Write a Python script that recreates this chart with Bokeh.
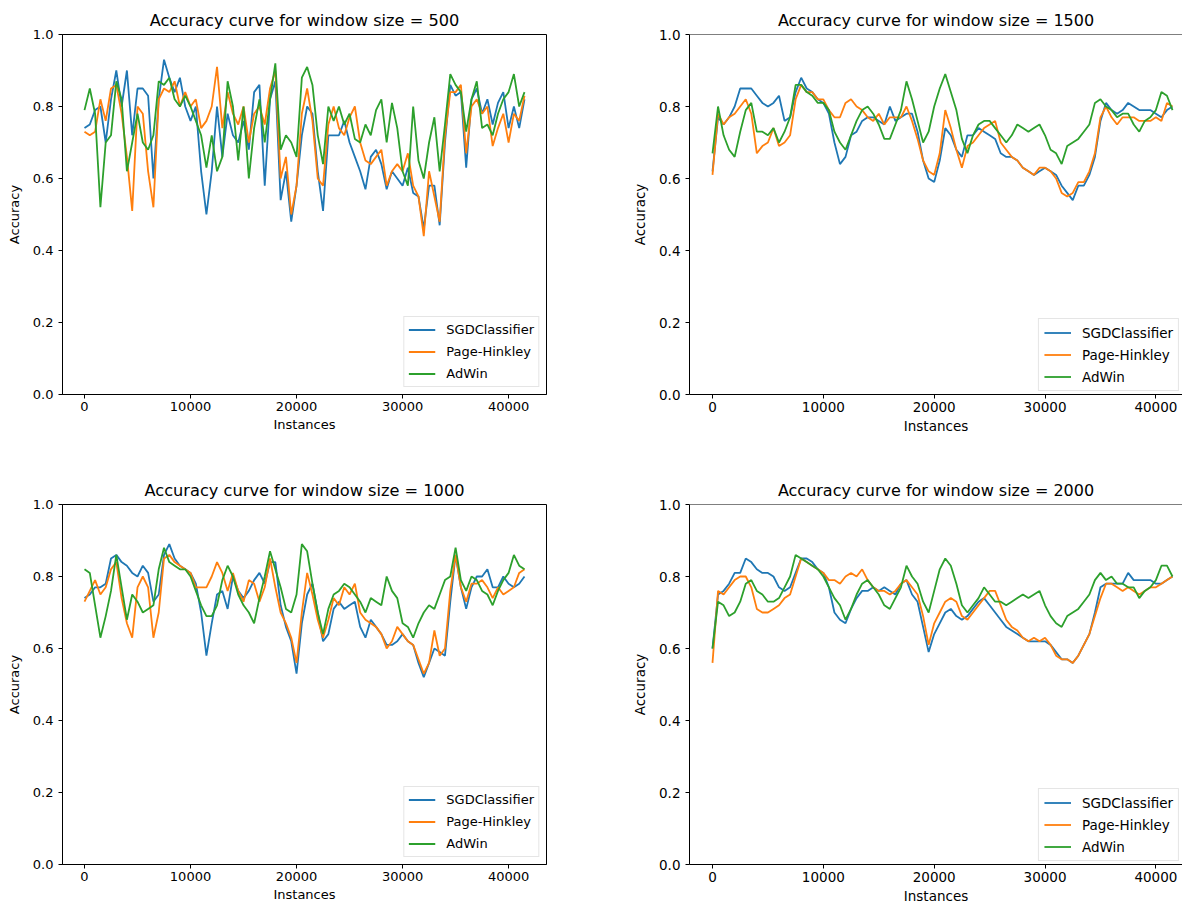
from bokeh.plotting import figure
from bokeh.models import Range1d, Legend, LegendItem, FixedTicker, Span, NumeralTickFormatter
from bokeh.layouts import row, column
from bokeh.embed import file_html
from bokeh.resources import INLINE

FONT = "DejaVu Sans"
BLUE, ORANGE, GREEN = "#1f77b4", "#ff7f0e", "#2ca02c"

# x positions of the samples (instances)
instances = [i * 500 for i in range(84)]
series_names = ["SGDClassifier", "Page-Hinkley", "AdWin"]
x_ticks = [0, 10000, 20000, 30000, 40000]
y_ticks = [0.0, 0.2, 0.4, 0.6, 0.8, 1.0]

# ---- window size = 500 ----
sgd_500 = [0.74, 0.75, 0.79, 0.80, 0.70, 0.82, 0.90, 0.80, 0.90, 0.72,
           0.85, 0.85, 0.83, 0.60, 0.82, 0.93, 0.88, 0.84, 0.88, 0.80,
           0.76, 0.80, 0.62, 0.50, 0.62, 0.80, 0.66, 0.78, 0.72, 0.70,
           0.76, 0.68, 0.84, 0.86, 0.58, 0.82, 0.87, 0.54, 0.62, 0.48,
           0.58, 0.72, 0.80, 0.78, 0.62, 0.51, 0.72, 0.72, 0.72, 0.76,
           0.70, 0.66, 0.62, 0.57, 0.66, 0.68, 0.64, 0.57, 0.62, 0.60,
           0.58, 0.63, 0.56, 0.55, 0.46, 0.58, 0.58, 0.47, 0.70, 0.86,
           0.83, 0.84, 0.63, 0.82, 0.85, 0.78, 0.82, 0.75, 0.81, 0.84,
           0.74, 0.80, 0.74, 0.82]
ph_500 = [0.73, 0.72, 0.73, 0.82, 0.76, 0.85, 0.86, 0.78, 0.66, 0.51,
          0.80, 0.78, 0.62, 0.52, 0.82, 0.85, 0.84, 0.87, 0.80, 0.84,
          0.80, 0.82, 0.74, 0.76, 0.80, 0.91, 0.74, 0.84, 0.78, 0.75,
          0.80, 0.70, 0.78, 0.80, 0.75, 0.85, 0.90, 0.60, 0.66, 0.50,
          0.58, 0.78, 0.85, 0.76, 0.60, 0.58, 0.75, 0.80, 0.74, 0.72,
          0.77, 0.80, 0.70, 0.65, 0.64, 0.66, 0.68, 0.58, 0.62, 0.64,
          0.62, 0.67, 0.58, 0.55, 0.44, 0.62, 0.55, 0.48, 0.72, 0.84,
          0.84, 0.86, 0.67, 0.80, 0.82, 0.78, 0.80, 0.69, 0.74, 0.78,
          0.70, 0.78, 0.76, 0.83]
adwin_500 = [0.79, 0.85, 0.78, 0.52, 0.70, 0.72, 0.87, 0.82, 0.62, 0.70,
             0.78, 0.70, 0.68, 0.72, 0.87, 0.86, 0.88, 0.82, 0.80, 0.83,
             0.80, 0.76, 0.72, 0.63, 0.72, 0.62, 0.66, 0.87, 0.80, 0.65,
             0.80, 0.60, 0.74, 0.82, 0.70, 0.82, 0.92, 0.68, 0.72, 0.70,
             0.66, 0.88, 0.91, 0.86, 0.72, 0.64, 0.80, 0.76, 0.80, 0.75,
             0.78, 0.71, 0.70, 0.75, 0.72, 0.79, 0.82, 0.70, 0.81, 0.74,
             0.62, 0.58, 0.80, 0.65, 0.60, 0.70, 0.77, 0.62, 0.75, 0.89,
             0.86, 0.84, 0.73, 0.82, 0.87, 0.74, 0.75, 0.72, 0.78, 0.82,
             0.84, 0.89, 0.80, 0.84]

# ---- window size = 1000 ----
sgd_1000 = [0.74, 0.75, 0.77, 0.77, 0.78, 0.85, 0.86, 0.84, 0.83, 0.81,
            0.80, 0.83, 0.81, 0.73, 0.75, 0.86, 0.89, 0.85, 0.83, 0.82,
            0.81, 0.78, 0.70, 0.58, 0.67, 0.75, 0.76, 0.71, 0.80, 0.76,
            0.74, 0.76, 0.79, 0.81, 0.78, 0.84, 0.84, 0.72, 0.66, 0.62,
            0.53, 0.67, 0.75, 0.78, 0.70, 0.62, 0.64, 0.71, 0.73, 0.71,
            0.72, 0.73, 0.66, 0.63, 0.68, 0.66, 0.64, 0.61, 0.61, 0.62,
            0.64, 0.62, 0.61, 0.56, 0.52, 0.56, 0.60, 0.59, 0.58, 0.73,
            0.86, 0.77, 0.71, 0.77, 0.80, 0.80, 0.82, 0.77, 0.77, 0.80,
            0.78, 0.77, 0.78, 0.80]
ph_1000 = [0.73, 0.76, 0.79, 0.75, 0.77, 0.82, 0.84, 0.74, 0.67, 0.63,
           0.77, 0.80, 0.77, 0.63, 0.70, 0.85, 0.86, 0.84, 0.83, 0.82,
           0.81, 0.77, 0.77, 0.77, 0.80, 0.84, 0.81, 0.76, 0.81, 0.76,
           0.73, 0.79, 0.78, 0.73, 0.77, 0.85, 0.77, 0.70, 0.67, 0.63,
           0.56, 0.70, 0.81, 0.75, 0.68, 0.63, 0.68, 0.74, 0.72, 0.77,
           0.75, 0.78, 0.70, 0.68, 0.67, 0.66, 0.64, 0.60, 0.62, 0.66,
           0.64, 0.62, 0.61, 0.57, 0.53, 0.56, 0.65, 0.58, 0.60, 0.76,
           0.86, 0.77, 0.73, 0.78, 0.78, 0.79, 0.77, 0.74, 0.77, 0.75,
           0.76, 0.77, 0.81, 0.82]
adwin_1000 = [0.82, 0.81, 0.72, 0.63, 0.69, 0.76, 0.86, 0.77, 0.68, 0.75,
              0.73, 0.70, 0.71, 0.72, 0.82, 0.88, 0.84, 0.83, 0.82, 0.82,
              0.80, 0.76, 0.72, 0.69, 0.69, 0.72, 0.79, 0.83, 0.80, 0.75,
              0.72, 0.70, 0.67, 0.74, 0.80, 0.87, 0.82, 0.77, 0.71, 0.70,
              0.75, 0.89, 0.87, 0.78, 0.70, 0.64, 0.71, 0.75, 0.76, 0.78,
              0.77, 0.75, 0.73, 0.70, 0.74, 0.73, 0.72, 0.80, 0.76, 0.74,
              0.67, 0.66, 0.63, 0.67, 0.70, 0.72, 0.71, 0.75, 0.79, 0.80,
              0.88, 0.79, 0.76, 0.80, 0.79, 0.76, 0.75, 0.72, 0.76, 0.79,
              0.81, 0.86, 0.83, 0.82]

# ---- window size = 1500 ----
sgd_1500 = [0.62, 0.77, 0.75, 0.77, 0.80, 0.85, 0.85, 0.85, 0.83, 0.81,
            0.80, 0.81, 0.83, 0.76, 0.77, 0.84, 0.88, 0.85, 0.84, 0.82,
            0.81, 0.78, 0.70, 0.64, 0.66, 0.72, 0.73, 0.76, 0.77, 0.77,
            0.76, 0.75, 0.80, 0.76, 0.77, 0.78, 0.78, 0.73, 0.65, 0.60,
            0.59, 0.65, 0.74, 0.72, 0.68, 0.66, 0.72, 0.72, 0.74, 0.73,
            0.72, 0.71, 0.67, 0.66, 0.66, 0.65, 0.63, 0.62, 0.61, 0.62,
            0.63, 0.62, 0.61, 0.58, 0.56, 0.54, 0.58, 0.58, 0.61, 0.66,
            0.76, 0.81, 0.79, 0.78, 0.79, 0.81, 0.80, 0.79, 0.79, 0.79,
            0.78, 0.77, 0.79, 0.80]
ph_1500 = [0.61, 0.78, 0.75, 0.77, 0.78, 0.80, 0.82, 0.78, 0.67, 0.69,
           0.70, 0.74, 0.69, 0.70, 0.72, 0.82, 0.86, 0.84, 0.84, 0.82,
           0.82, 0.79, 0.77, 0.77, 0.81, 0.82, 0.80, 0.79, 0.77, 0.76,
           0.78, 0.75, 0.77, 0.77, 0.77, 0.80, 0.76, 0.71, 0.65, 0.62,
           0.61, 0.67, 0.79, 0.74, 0.68, 0.63, 0.69, 0.70, 0.72, 0.74,
           0.75, 0.76, 0.70, 0.68, 0.66, 0.65, 0.63, 0.62, 0.61, 0.63,
           0.63, 0.62, 0.60, 0.56, 0.55, 0.56, 0.59, 0.59, 0.62, 0.67,
           0.77, 0.80, 0.77, 0.75, 0.77, 0.77, 0.77, 0.76, 0.76, 0.76,
           0.77, 0.76, 0.81, 0.80]
adwin_1500 = [0.67, 0.80, 0.72, 0.68, 0.66, 0.73, 0.79, 0.81, 0.73, 0.73,
              0.72, 0.74, 0.70, 0.73, 0.77, 0.86, 0.86, 0.84, 0.83, 0.81,
              0.81, 0.79, 0.73, 0.70, 0.68, 0.72, 0.76, 0.79, 0.80, 0.78,
              0.75, 0.71, 0.71, 0.75, 0.79, 0.87, 0.82, 0.76, 0.70, 0.73,
              0.80, 0.85, 0.89, 0.84, 0.79, 0.71, 0.67, 0.72, 0.75, 0.76,
              0.76, 0.74, 0.72, 0.70, 0.72, 0.75, 0.74, 0.73, 0.74, 0.75,
              0.72, 0.68, 0.67, 0.64, 0.69, 0.70, 0.71, 0.73, 0.75, 0.81,
              0.82, 0.80, 0.79, 0.77, 0.78, 0.78, 0.75, 0.73, 0.76, 0.77,
              0.79, 0.84, 0.83, 0.79]

# ---- window size = 2000 ----
sgd_2000 = [0.60, 0.75, 0.76, 0.78, 0.81, 0.81, 0.85, 0.84, 0.82, 0.81,
            0.81, 0.80, 0.77, 0.76, 0.77, 0.81, 0.85, 0.85, 0.84, 0.82,
            0.81, 0.77, 0.70, 0.68, 0.67, 0.71, 0.74, 0.76, 0.76, 0.77,
            0.76, 0.77, 0.76, 0.75, 0.78, 0.79, 0.75, 0.73, 0.66, 0.59,
            0.64, 0.67, 0.70, 0.71, 0.69, 0.68, 0.69, 0.71, 0.73, 0.74,
            0.72, 0.70, 0.68, 0.66, 0.65, 0.64, 0.63, 0.62, 0.62, 0.62,
            0.62, 0.61, 0.59, 0.57, 0.57, 0.56, 0.58, 0.61, 0.64, 0.70,
            0.77, 0.78, 0.78, 0.78, 0.78, 0.81, 0.79, 0.79, 0.79, 0.79,
            0.78, 0.78, 0.79, 0.80]
ph_2000 = [0.56, 0.76, 0.75, 0.77, 0.79, 0.80, 0.80, 0.77, 0.71, 0.70,
           0.70, 0.71, 0.72, 0.74, 0.75, 0.80, 0.85, 0.84, 0.83, 0.82,
           0.81, 0.79, 0.79, 0.78, 0.80, 0.81, 0.80, 0.82, 0.79, 0.77,
           0.76, 0.76, 0.75, 0.76, 0.78, 0.79, 0.77, 0.75, 0.69, 0.61,
           0.67, 0.70, 0.73, 0.74, 0.73, 0.69, 0.68, 0.70, 0.72, 0.74,
           0.76, 0.76, 0.72, 0.68, 0.66, 0.65, 0.63, 0.62, 0.63, 0.62,
           0.63, 0.61, 0.58, 0.57, 0.57, 0.56, 0.58, 0.61, 0.64, 0.69,
           0.74, 0.78, 0.78, 0.77, 0.76, 0.77, 0.76, 0.75, 0.76, 0.77,
           0.77, 0.78, 0.79, 0.80]
adwin_2000 = [0.60, 0.73, 0.72, 0.69, 0.70, 0.73, 0.78, 0.79, 0.76, 0.75,
              0.73, 0.73, 0.74, 0.77, 0.80, 0.86, 0.85, 0.84, 0.83, 0.82,
              0.80, 0.77, 0.74, 0.72, 0.68, 0.71, 0.75, 0.78, 0.79, 0.77,
              0.75, 0.72, 0.71, 0.74, 0.77, 0.83, 0.80, 0.78, 0.73, 0.70,
              0.76, 0.82, 0.85, 0.83, 0.78, 0.72, 0.70, 0.72, 0.74, 0.77,
              0.75, 0.73, 0.73, 0.72, 0.73, 0.74, 0.75, 0.74, 0.75, 0.76,
              0.72, 0.69, 0.67, 0.66, 0.69, 0.70, 0.71, 0.73, 0.75, 0.79,
              0.81, 0.79, 0.80, 0.78, 0.78, 0.77, 0.77, 0.74, 0.76, 0.77,
              0.79, 0.83, 0.83, 0.80]


def make_panel(window, ys, width, height, mb, x_end, fs, fs_title, clip_right):
    p = figure(width=width, height=height,
               x_range=Range1d(-2075, x_end), y_range=Range1d(0, 1),
               output_backend="svg", toolbar_location=None,
               min_border_left=mb[0], min_border_right=mb[1],
               min_border_top=mb[2], min_border_bottom=mb[3])
    p.grid.visible = False
    p.background_fill_color = "white"
    p.border_fill_color = "white"
    if clip_right:
        p.outline_line_color = None
        p.add_layout(Span(location=1.0, dimension="width", line_color="black", line_width=1))
    else:
        p.outline_line_color = "black"
        p.outline_line_width = 1
        p.outline_line_alpha = 1

    p.title.text = f"Accuracy curve for window size = {window}"
    p.title.align = "center"
    p.title.text_font = FONT
    p.title.text_font_size = fs_title
    p.title.text_font_style = "normal"
    p.title.text_color = "black"
    p.title.standoff = 9

    for ax in (p.xaxis[0], p.yaxis[0]):
        ax.axis_line_color = "black"
        ax.axis_line_width = 1
        ax.major_tick_in = 0
        ax.major_tick_out = 4
        ax.major_tick_line_color = "black"
        ax.minor_tick_line_color = None
        ax.major_label_text_font = FONT
        ax.major_label_text_font_size = fs
        ax.major_label_text_color = "black"
        ax.axis_label_text_font = FONT
        ax.axis_label_text_font_size = fs
        ax.axis_label_text_font_style = "normal"
        ax.axis_label_text_color = "black"
    p.xaxis.axis_label = "Instances"
    p.yaxis.axis_label = "Accuracy"
    p.xaxis.ticker = FixedTicker(ticks=x_ticks)
    p.yaxis.ticker = FixedTicker(ticks=y_ticks)
    p.xaxis.formatter = NumeralTickFormatter(format="0")
    p.yaxis.formatter = NumeralTickFormatter(format="0.0")
    p.xaxis.major_label_standoff = 3
    p.yaxis.major_label_standoff = 5
    p.xaxis.axis_label_standoff = 3
    p.yaxis.axis_label_standoff = 8

    items = []
    for name, y, col in zip(series_names, ys, (BLUE, ORANGE, GREEN)):
        r = p.line(instances, y, line_color=col, line_width=1.8)
        items.append(LegendItem(label=name, renderers=[r]))
    leg = Legend(items=items, location="bottom_right")
    leg.label_text_font = FONT
    leg.label_text_font_size = fs
    leg.label_text_color = "black"
    leg.border_line_color = "#cccccc"
    leg.border_line_width = 1
    leg.background_fill_color = "white"
    leg.background_fill_alpha = 0.8
    leg.glyph_width = 27
    leg.glyph_height = 17
    leg.label_height = 17
    leg.label_standoff = 11
    leg.spacing = 5
    leg.padding = 5 if clip_right else 4
    leg.margin = 3 if clip_right else 7
    p.add_layout(leg)
    return p


# the page is drawn from the window's top-left corner
tl = make_panel(500, (sgd_500, ph_500, adwin_500), 620, 473, (62, 74, 34, 79), 43575, "13px", "16.2px", False)
tr = make_panel(1500, (sgd_1500, ph_1500, adwin_1500), 562, 473, (69, 0, 34, 71), 42401, "13.5px", "16px", True)
bl = make_panel(1000, (sgd_1000, ph_1000, adwin_1000), 620, 442, (62, 74, 30, 51), 43575, "13px", "16.2px", False)
br = make_panel(2000, (sgd_2000, ph_2000, adwin_2000), 562, 442, (69, 0, 31, 43), 42401, "13.5px", "16px", True)

layout = column(row(tl, tr), row(bl, br))
open("out.html", "w").write(file_html(layout, INLINE))
